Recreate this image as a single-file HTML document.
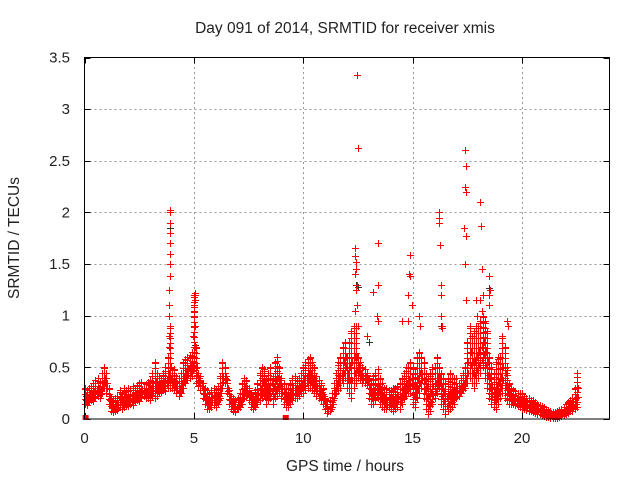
<!DOCTYPE html>
<html><head><meta charset="utf-8"><style>
body{margin:0;background:#fff;}
svg text{font-family:"Liberation Sans",sans-serif;fill:#222;}
</style></head><body>
<svg id="c" width="640" height="480" xmlns="http://www.w3.org/2000/svg">
<text x="345" y="33" font-size="15.5" text-anchor="middle">Day 091 of 2014, SRMTID for receiver xmis</text>
<text x="345" y="471" font-size="15.5" text-anchor="middle">GPS time / hours</text>
<text transform="translate(19,238) rotate(-90)" font-size="15.5" text-anchor="middle">SRMTID / TECUs</text>
<g id="grid"></g><g id="ticks"></g><g id="marks"></g>
<rect x="84.5" y="57.5" width="525" height="361.5" fill="none" stroke="#000" stroke-width="1"/>
</svg>
<script>
const xTicks=[0,5,10,15,20];
const yTicks=[0,0.5,1,1.5,2,2.5,3,3.5];
const yTickLabels=["0","0.5","1","1.5","2","2.5","3","3.5"];
const lowBand=[.15,.14,.16,.18,.17,.2,.22,.2,.25,.3,
.25,.15,.08,.07,.08,.09,.12,.1,.12,.13,
.13,.15,.14,.16,.18,.17,.2,.22,.2,.2,
.18,.22,.2,.22,.25,.26,.28,.27,.3,.3,
.3,.28,.25,.22,.25,.3,.35,.38,.4,.42,
.5,.35,.32,.28,.2,.15,.1,.1,.12,.14,
.12,.15,.2,.3,.35,.25,.15,.1,.08,.07,
.1,.12,.15,.2,.22,.18,.12,.1,.12,.15,
.18,.2,.22,.15,.18,.2,.15,.2,.22,.25,
.2,.15,.12,.12,.15,.18,.2,.2,.22,.25,
.25,.28,.3,.3,.28,.25,.22,.2,.18,.15,
.1,.06,.08,.12,.2,.25,.28,.3,.35,.4,
.3,.25,.2,.3,.35,.4,.38,.35,.35,.33,
.2,.15,.15,.18,.2,.15,.12,.1,.1,.12,
.1,.08,.1,.12,.1,.15,.2,.22,.25,.25,
.15,.12,.2,.25,.3,.2,.1,.05,.08,.15,
.2,.25,.3,.15,.1,.05,.08,.1,.12,.15,
.2,.22,.25,.28,.3,.35,.4,.35,.3,.35,
.4,.45,.5,.4,.3,.2,.15,.12,.1,.15,
.2,.25,.2,.18,.15,.15,.15,.14,.13,.12,
.1,.1,.09,.08,.08,.07,.06,.05,.05,.04,
.03,.02,.02,.01,.01,.01,.01,.02,.03,.04,
.05,.06,.08,.08,.1,.12];
const midBand=[.22,.2,.24,.25,.26,.28,.3,.28,.35,.4,
.35,.22,.14,.12,.14,.15,.2,.18,.2,.2,
.2,.22,.23,.22,.25,.26,.28,.26,.27,.28,
.28,.32,.36,.32,.33,.32,.36,.38,.45,.5,
.36,.36,.32,.3,.35,.42,.45,.48,.5,.52,
.9,.5,.4,.35,.28,.22,.18,.18,.2,.22,
.2,.22,.3,.42,.42,.3,.22,.15,.13,.12,
.15,.18,.25,.3,.3,.24,.18,.16,.2,.25,
.3,.35,.35,.28,.3,.35,.3,.38,.4,.38,
.3,.25,.2,.2,.25,.3,.3,.3,.32,.35,
.38,.42,.45,.45,.4,.38,.32,.28,.26,.22,
.15,.1,.12,.18,.28,.35,.42,.45,.55,.6,
.45,.5,.55,.6,.6,.5,.45,.42,.42,.4,
.3,.25,.28,.3,.32,.28,.22,.2,.18,.2,
.2,.18,.2,.22,.22,.28,.32,.35,.38,.4,
.32,.3,.4,.45,.45,.38,.3,.22,.25,.32,
.35,.4,.4,.3,.25,.2,.22,.25,.25,.28,
.3,.3,.32,.35,.4,.55,.65,.55,.55,.6,
.65,.7,.75,.65,.55,.4,.3,.25,.3,.35,
.4,.5,.45,.32,.25,.22,.2,.2,.18,.18,
.17,.16,.15,.14,.13,.12,.11,.1,.09,.08,
.07,.06,.05,.04,.04,.04,.04,.05,.06,.07,
.1,.11,.13,.14,.2,.3];
const highBand=[.3,.28,.3,.32,.35,.38,.4,.36,.45,.5,
.45,.3,.2,.18,.2,.22,.28,.25,.3,.28,
.3,.28,.32,.3,.33,.35,.36,.3,.34,.36,
.38,.45,.55,.45,.42,.4,.45,.5,.6,.9,
.45,.48,.42,.4,.45,.55,.58,.6,.62,.65,
1.2,.7,.45,.42,.35,.3,.28,.25,.28,.3,
.28,.32,.42,.55,.5,.38,.28,.22,.2,.18,
.2,.25,.35,.4,.38,.3,.25,.22,.28,.35,
.45,.5,.48,.4,.45,.5,.42,.55,.6,.5,
.4,.35,.3,.3,.35,.4,.42,.38,.4,.45,
.5,.55,.58,.6,.55,.5,.42,.38,.35,.3,
.2,.15,.18,.25,.35,.45,.55,.6,.7,.75,
.6,.75,.85,.9,.9,.6,.55,.5,.48,.45,
.4,.35,.42,.45,.48,.4,.35,.3,.3,.28,
.28,.3,.3,.32,.35,.4,.45,.5,.5,.55,
.5,.45,.6,.65,.6,.55,.45,.4,.45,.5,
.5,.6,.5,.45,.4,.35,.4,.45,.4,.4,
.4,.35,.4,.45,.5,.75,.9,.8,.85,.9,
.9,.95,1.0,.95,.85,.6,.5,.45,.55,.6,
.6,.8,.7,.5,.35,.3,.28,.27,.25,.25,
.25,.22,.2,.2,.18,.18,.16,.15,.14,.13,
.12,.1,.09,.08,.07,.07,.08,.09,.1,.12,
.15,.16,.18,.2,.3,.45];
const spikeHours=[3.82,3.84,3.85,3.86,3.87,3.88,3.89,3.9,3.9,3.91,3.92,3.92,3.93,3.93,
4.98,5.0,5.0,5.02,5.02,5.04,5.04,5.06,
12.35,12.37,12.4,12.42,12.38,12.44,12.4,12.45,12.36,12.5,12.45,12.48,
13.2,13.4,13.4,13.38,13.4,14.5,14.8,14.8,14.85,14.9,14.9,14.95,15.3,15.35,
16.2,16.22,16.2,16.25,16.3,16.28,16.3,16.32,16.35,
17.4,17.42,17.4,17.42,17.35,17.45,17.4,17.45,17.9,17.95,
18.1,18.12,18.15,18.2,18.1,18.15,18.5,18.52,18.5,18.48,19.3,19.35,12.9];
const spikeValues=[.6,.7,.8,1.0,1.1,1.25,1.38,1.5,1.6,1.7,1.8,1.9,2.0,2.02,
.8,.9,1.0,1.05,1.1,1.15,1.2,1.22,
1.66,1.58,1.52,1.45,1.4,1.3,1.25,1.1,1.05,.9,3.33,2.62,
1.23,1.7,1.3,1.0,.95,.95,1.2,.95,1.4,1.59,1.38,1.1,1.0,.9,
2.0,1.95,1.9,1.68,1.3,1.2,1.0,.9,.88,
2.6,2.45,2.25,2.2,1.85,1.77,1.5,1.15,1.15,1.0,
2.1,1.87,1.45,1.2,1.15,1.05,1.38,1.25,1.2,1.1,.95,.9,.8];
const darkHours=[12.4,12.5,13.0,16.3,18.5,3.9,5.05];
const darkValues=[1.3,1.28,.75,.9,1.27,1.85,.72];
const zeroHours=[0.05,9.2];
const zeroValues=[0,0];

const X0=84.5,X1=609.5,Y0=419,Y1=57.5,XMAX=24,YMAX=3.5;
const xs=h=>X0+(X1-X0)*h/XMAX;
const ys=v=>Y0-(Y0-Y1)*v/YMAX;
const NS="http://www.w3.org/2000/svg";
const grid=document.getElementById('grid'),ticks=document.getElementById('ticks'),marks=document.getElementById('marks');
function mk(tag,attrs,parent){const e=document.createElementNS(NS,tag);for(const k in attrs)e.setAttribute(k,attrs[k]);parent.appendChild(e);return e;}
xTicks.forEach(t=>{
  const x=Math.round(xs(t))+0.5;
  if(t>0){const g=mk('line',{x1:x,y1:Y0,x2:x,y2:Y1,stroke:'#999','stroke-dasharray':'2,3'},grid);
  
  }
  const tk=mk('path',{d:`M${x},${Y0}v-6M${x},${Y1}v6`,stroke:'#000'},ticks);
  
  
  const lb=mk('text',{x:xs(t),y:443,'font-size':15,'text-anchor':'middle'},ticks);lb.textContent=t;
  
  
});
yTicks.forEach((t,i)=>{
  const y=Math.round(ys(t))+0.5;
  if(t>0&&t<YMAX){const g=mk('line',{x1:X0,y1:y,x2:X1,y2:y,stroke:'#999','stroke-dasharray':'2,3'},grid);
  
  }
  const tk=mk('path',{d:`M${X0},${y}h6M${X1},${y}h-6`,stroke:'#000'},ticks);
  
  
  const lb=mk('text',{x:70,y:ys(t)+5,'font-size':15,'text-anchor':'end'},ticks);lb.textContent=yTickLabels[i];
  
  
});
function plus(h,v){const x=Math.round(xs(h))+0.5,y=Math.round(ys(v))+0.5;return `M${x-3.5},${y}h7M${x},${y-3.5}v7`;}
function plusPx(h,py){const x=Math.round(xs(h))+0.5,y=Math.round(py)+0.5;return `M${x-3.5},${y}h7M${x},${y-3.5}v7`;}
let dk='';darkHours.forEach((h,i)=>dk+=plus(h,darkValues[i]));
const pd=mk('path',{d:dk,stroke:'#333','stroke-width':1,fill:'none'},marks);


let d='';
lowBand.forEach((lo,i)=>{
  const hi=highBand[i],t=i*0.1;
  const yl=ys(lo),yh=ys(hi);
  for(let py=yl;py>=yh-0.1;py-=5)d+=plusPx(t,py);
  d+=plus(t,hi);
  d+=plus(t+0.05,midBand[i]);
  d+=plus(t+0.05,(lo+midBand[i])/2);
});
spikeHours.forEach((h,i)=>d+=plus(h,spikeValues[i]));
const pr=mk('path',{d:d,stroke:'#f00','stroke-width':1,fill:'none'},marks);


zeroHours.forEach((h,i)=>{const r=mk('rect',{x:xs(h)-3,y:ys(zeroValues[i])-4,width:6,height:5,fill:'#f00'},marks);

});
</script>
</body></html>
